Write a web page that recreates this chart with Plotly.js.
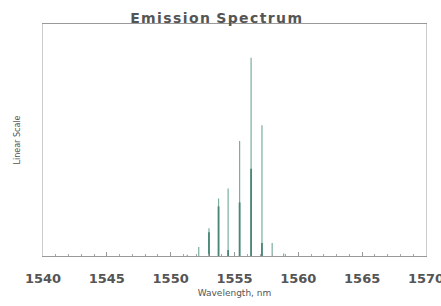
<!DOCTYPE html>
<html><head><meta charset="utf-8">
<script src="https://cdn.plot.ly/plotly-3.0.1.min.js"></script>
<style>body{margin:0;padding:0;background:#fff}#chart{width:441px;height:306px}</style>
</head><body><div id="chart"></div>
<script>
// Main (tall) lines of the spectrum
var wavelengthA = [1551.3, 1552.2, 1553.0, 1553.75, 1554.5, 1555.4, 1556.3, 1557.15, 1557.95, 1558.85];
var intensityA  = [0.006, 0.045, 0.14, 0.29, 0.34, 0.58, 1.00, 0.66, 0.066, 0.012];
// Secondary (overlapping) lines
var wavelengthB = [1553.0, 1553.75, 1554.5, 1555.4, 1556.3, 1557.15];
var intensityB  = [0.12, 0.25, 0.03, 0.27, 0.44, 0.065];
var tickVals = [1540, 1545, 1550, 1555, 1560, 1565, 1570];
var tickText = ["1540", "1545", "1550", "1555", "1560", "1565", "1570"];

function stems(xs, ys) {
  var x = [], y = [];
  for (var i = 0; i < xs.length; i++) { x.push(xs[i], xs[i], null); y.push(0, ys[i], null); }
  return {x: x, y: y};
}
var sA = stems(wavelengthA, intensityA);
var sB = stems(wavelengthB, intensityB);
var traces = [
  {x: sA.x, y: sA.y, type: 'scatter', mode: 'lines', line: {color: '#7aae9f', width: 1.2}, hoverinfo: 'skip'},
  {x: sB.x, y: sB.y, type: 'scatter', mode: 'lines', line: {color: '#4a8676', width: 1.8}, hoverinfo: 'skip'}
];
var layout = {
  width: 441, height: 306,
  margin: {l: 43, r: 15, t: 24, b: 50},
  paper_bgcolor: '#fff', plot_bgcolor: '#fff',
  showlegend: false,
  title: {text: 'E m i s s i o n&nbsp; S p e c t r u m'.replace(/ (?=\S)/g, '\u200A'), font: {family: 'DejaVu Sans', size: 14, color: '#555', weight: 'bold'}, x: 0.49, xanchor: 'center', y: 0.94, yanchor: 'middle'},
  xaxis: {
    range: [1540, 1570], tickvals: tickVals, ticktext: tickText,
    showgrid: false, zeroline: false, showline: true, linecolor: '#999', linewidth: 1, mirror: true,
    ticks: 'inside', ticklen: 4, tickcolor: '#999',
    minor: {dtick: 1, ticks: 'inside', ticklen: 2, tickcolor: '#aaa'},
    ticklabeloverflow: 'allow', ticklabelstandoff: 10,
    tickfont: {family: 'DejaVu Sans', size: 13, color: '#555', weight: 'bold'},
    title: {text: 'Wavelength, nm', font: {family: 'DejaVu Sans', size: 9, color: '#555'}, standoff: 5}
  },
  yaxis: {
    range: [0, 1.17], showticklabels: false, ticks: '',
    showgrid: false, zeroline: false, showline: true, linecolor: '#ccc', linewidth: 1, mirror: true,
    title: {text: 'Linear Scale', font: {family: 'DejaVu Sans', size: 8, color: '#555'}, standoff: 20}
  }
};
Plotly.newPlot('chart', traces, layout, {displayModeBar: false, staticPlot: true});
</script></body></html>
